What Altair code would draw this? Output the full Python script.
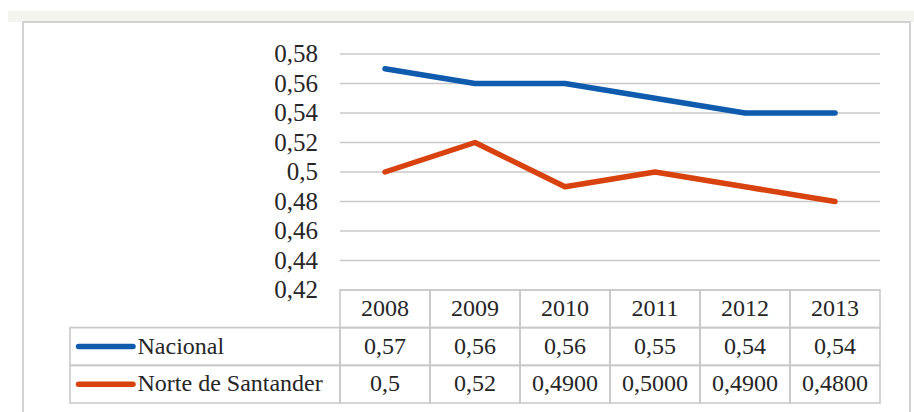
import altair as alt
import pandas as pd

# ---- data ----
years = ["2008", "2009", "2010", "2011", "2012", "2013"]
series = ["Nacional", "Norte de Santander"]
nacional = [0.57, 0.56, 0.56, 0.55, 0.54, 0.54]
norte = [0.50, 0.52, 0.49, 0.50, 0.49, 0.48]
nacional_txt = ["0,57", "0,56", "0,56", "0,55", "0,54", "0,54"]
norte_txt = ["0,5", "0,52", "0,4900", "0,5000", "0,4900", "0,4800"]
y_ticks = [0.42, 0.44, 0.46, 0.48, 0.50, 0.52, 0.54, 0.56, 0.58]
y_tick_labels = ["0,42", "0,44", "0,46", "0,48", "0,5", "0,52", "0,54", "0,56", "0,58"]
colors = ["#0F5BAE", "#D8420E"]

# ---- tables built from the arrays ----
label_cols = ["c1", "c2", "c3"]
x_domain = label_cols + years
row_keys = ["header"] + series

lines_df = pd.DataFrame(
    {"year": years * 2, "value": nacional + norte,
     "series": [series[0]] * 6 + [series[1]] * 6}
)
grid_df = pd.DataFrame({"tick": y_ticks, "label": y_tick_labels})
cells_df = pd.DataFrame(
    {"year": years * 3, "row": [r for r in row_keys for _ in years],
     "text": years + nacional_txt + norte_txt}
)
rows_df = pd.DataFrame({"row": series})
one = pd.DataFrame({"a": [0]})

FONT = "'Liberation Serif', 'DejaVu Serif', serif"
GRID = "#c9c9c9"
TXT = "#262626"

xscale = alt.Scale(type="band", domain=x_domain, paddingInner=0, paddingOuter=0)
yscale = alt.Scale(domain=[0.42, 0.58], range=[236, 0], nice=False, zero=False)
tscale = alt.Scale(type="band", domain=row_keys, range=[236, 349], paddingInner=0, paddingOuter=0)
cscale = alt.Scale(domain=series, range=colors)

# decorative page band and frame
band = alt.Chart(one).mark_rect(fill="#f4f4ef").encode(
    x=alt.value(-62), x2=alt.value(844), y=alt.value(-43), y2=alt.value(-32)
)
frame = alt.Chart(one).mark_rect(fill=None, stroke="#d2d2d2", strokeWidth=2).encode(
    x=alt.value(-47), x2=alt.value(840), y=alt.value(-32), y2=alt.value(380)
)

grid = alt.Chart(grid_df).mark_rule(color=GRID, strokeWidth=1.6).encode(
    x=alt.XDatum("2008", type="ordinal", bandPosition=0, scale=xscale, axis=None),
    x2=alt.X2Datum("2013", bandPosition=1),
    y=alt.Y("tick:Q", scale=yscale, axis=None),
)

ylabels = alt.Chart(grid_df).mark_text(
    align="right", baseline="middle", dx=-22, font=FONT, fontSize=25, color=TXT
).encode(
    x=alt.XDatum("c3", type="ordinal", bandPosition=1, scale=xscale, axis=None),
    y=alt.Y("tick:Q", scale=yscale, axis=None),
    text="label:N",
)

lines = alt.Chart(lines_df).mark_line(strokeWidth=5.5, strokeCap="round", strokeJoin="round").encode(
    x=alt.X("year:O", bandPosition=0.5, scale=xscale, axis=None),
    y=alt.Y("value:Q", scale=yscale, axis=None),
    color=alt.Color("series:N", scale=cscale, legend=None),
    detail="series:N",
)

cells = alt.Chart(cells_df).mark_rect(fill="white", fillOpacity=0, stroke=GRID, strokeWidth=1.6).encode(
    x=alt.X("year:O", scale=xscale, axis=None),
    y=alt.Y("row:N", scale=tscale, axis=None),
)

label_cells = alt.Chart(rows_df).mark_rect(fill="white", fillOpacity=0, stroke=GRID, strokeWidth=1.6).encode(
    x=alt.XDatum("c1", type="ordinal", bandPosition=0, scale=xscale, axis=None),
    x2=alt.X2Datum("c3", bandPosition=1),
    y=alt.Y("row:N", scale=tscale, axis=None),
)

cell_text = alt.Chart(cells_df).mark_text(
    align="center", baseline="middle", font=FONT, fontSize=24, color=TXT
).encode(
    x=alt.X("year:O", bandPosition=0.5, scale=xscale, axis=None),
    y=alt.Y("row:N", bandPosition=0.5, scale=tscale, axis=None),
    text="text:N",
)

keys = alt.Chart(rows_df).mark_rule(strokeWidth=5.5, strokeCap="round").encode(
    x=alt.XDatum("c1", type="ordinal", bandPosition=0.095, scale=xscale, axis=None),
    x2=alt.X2Datum("c1", bandPosition=0.70),
    y=alt.Y("row:N", bandPosition=0.5, scale=tscale, axis=None),
    color=alt.Color("row:N", scale=cscale, legend=None),
)

key_text = alt.Chart(rows_df).mark_text(
    align="left", baseline="middle", font=FONT, fontSize=24, color=TXT
).encode(
    x=alt.XDatum("c1", type="ordinal", bandPosition=0.75, scale=xscale, axis=None),
    y=alt.Y("row:N", bandPosition=0.5, scale=tscale, axis=None),
    text="row:N",
)

chart = alt.layer(
    band, frame, grid, ylabels, cells, label_cells, cell_text, keys, key_text, lines
).resolve_scale(
    y="independent"
).properties(
    width=810,
    height=349,
    autosize=alt.AutoSizeParams(type="none"),
    padding={"left": 70, "top": 54, "right": 34, "bottom": 9},
    background="white",
).configure_view(stroke=None)

chart.save("out.html", embed_options={"renderer": "svg", "actions": False})
